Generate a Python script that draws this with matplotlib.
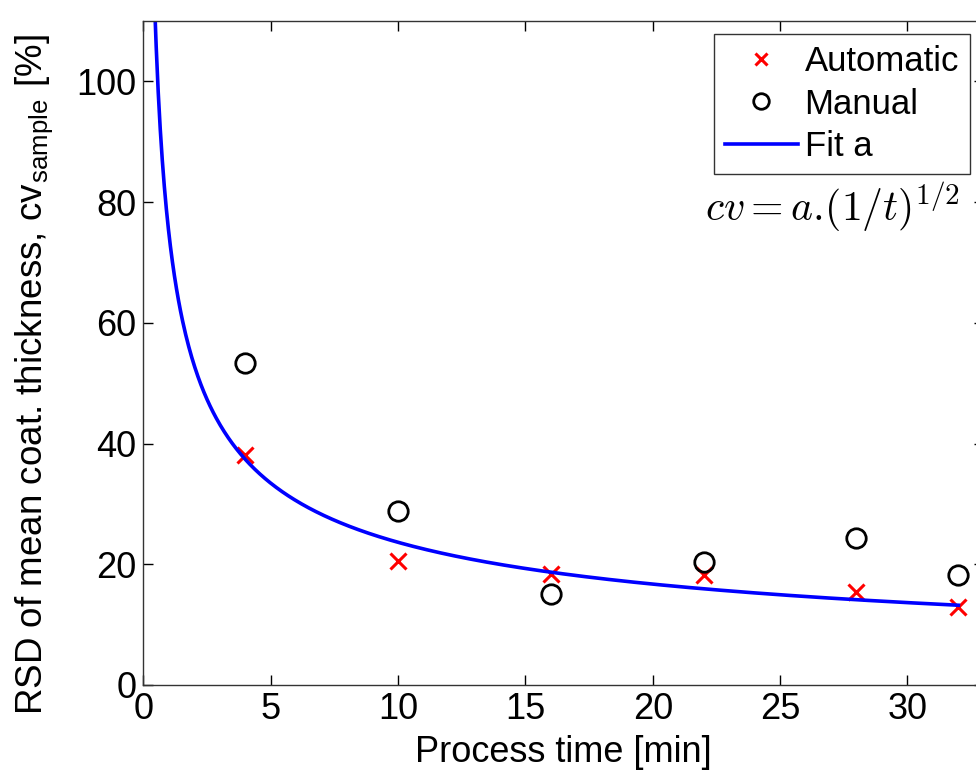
import numpy as np
import matplotlib
matplotlib.use("Agg")
import matplotlib.pyplot as plt

plt.rcParams['font.family'] = ['Liberation Sans', 'DejaVu Sans']
plt.rcParams['mathtext.fontset'] = 'cm'

# Process times [min]
t_points = [4, 10, 16, 22, 28, 32]
# Relative standard deviation [%]
cv_automatic = [38.1, 20.6, 18.4, 18.2, 15.4, 12.9]
cv_manual = [53.4, 28.9, 15.1, 20.4, 24.4, 18.2]

x_ticks = [0, 5, 10, 15, 20, 25, 30]
y_ticks = [0, 20, 40, 60, 80, 100]

# Least-squares fit of cv = a * (1/t)^(1/2) to the automatic series
t_arr = np.asarray(t_points, dtype=float)
inv_sqrt = 1.0 / np.sqrt(t_arr)
a_fit = np.sum(np.asarray(cv_automatic) * inv_sqrt) / np.sum(inv_sqrt ** 2)
t_fit = np.linspace(0.1, 32, 800)
cv_fit = a_fit / np.sqrt(t_fit)

fig = plt.figure(figsize=(9.76, 7.70), dpi=100)
ax = fig.add_axes([0.147, 0.1104, 0.861, 0.8623])

ax.plot(t_points, cv_automatic, linestyle='none', marker='x', color='red',
        markersize=11, markeredgewidth=2.2, label='Automatic')
ax.plot(t_points, cv_manual, linestyle='none', marker='o', markerfacecolor='none',
        markeredgecolor='black', markersize=14, markeredgewidth=2, label='Manual')
ax.plot(t_fit, cv_fit, color='blue', linewidth=2.6, label='Fit a')

ax.set_xlim(0, 33)
ax.set_ylim(0, 110)
ax.set_xticks(x_ticks)
ax.set_yticks(y_ticks)
ax.tick_params(direction='in', length=7, width=1, top=True, right=True,
               labelsize=26, pad=5)
for s in ax.spines.values():
    s.set_linewidth(1.0)
    s.set_color('#333333')

ax.set_xlabel('Process time [min]', fontsize=26, labelpad=6)
ax.set_ylabel(r'RSD of mean coat. thickness, cv$_\mathregular{sample}$ [%]',
              fontsize=26.5)
ax.yaxis.set_label_coords(-0.105, 0.467)

leg = ax.legend(loc='upper right', bbox_to_anchor=(0.9837, 0.9804),
                fontsize=25, frameon=True, fancybox=False, framealpha=1,
                edgecolor='#333333', borderpad=0.32, labelspacing=0.27,
                handlelength=2.1, handletextpad=0.2, borderaxespad=0.0,
                markerscale=0.8)
leg.get_frame().set_linewidth(1.0)

ax.text(0.972, 0.72, r'$cv = a.\!(1/t)^{1/2}$', transform=ax.transAxes,
        ha='right', va='center', fontsize=30)

fig.savefig('out.png', dpi=100)
